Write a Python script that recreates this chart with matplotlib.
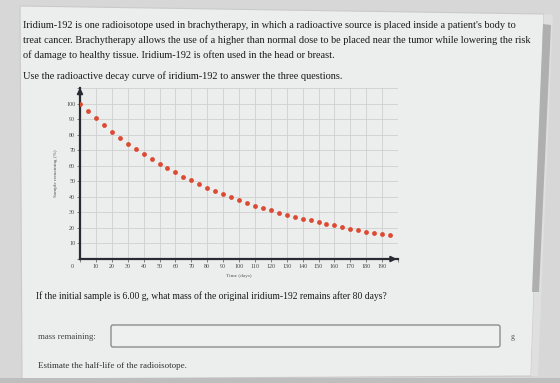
import matplotlib
matplotlib.use("Agg")
import matplotlib.pyplot as plt
from matplotlib.patches import Rectangle, Polygon, FancyBboxPatch

# decay curve (every 5 days)
days = [0, 5, 10, 15, 20, 25, 30, 35, 40, 45, 50, 55, 60, 65, 70, 75, 80, 85, 90, 95,
        100, 105, 110, 115, 120, 125, 130, 135, 140, 145, 150, 155, 160, 165, 170, 175,
        180, 185, 190, 195]
remaining = [100, 95.1, 90.7, 86.1, 82.0, 78.0, 74.2, 70.8, 67.4, 64.2, 61.3, 58.3, 55.8,
             53.0, 50.5, 48.0, 45.7, 43.6, 41.7, 39.6, 37.9, 36.0, 34.3, 32.7, 31.4, 29.9,
             28.6, 27.1, 25.9, 24.8, 23.8, 22.7, 21.6, 20.6, 19.5, 18.4, 17.6, 16.8, 16.1, 15.2]
xticks = list(range(10, 200, 10))
yticks = list(range(10, 110, 10))

intro = ["Iridium-192 is one radioisotope used in brachytherapy, in which a radioactive source is placed inside a patient's body to",
         "treat cancer. Brachytherapy allows the use of a higher than normal dose to be placed near the tumor while lowering the risk",
         "of damage to healthy tissue. Iridium-192 is often used in the head or breast."]
instruction = "Use the radioactive decay curve of iridium-192 to answer the three questions."
question = "If the initial sample is 6.00 g, what mass of the original iridium-192 remains after 80 days?"

serif = "Liberation Serif"
W, H = 560, 383

fig = plt.figure(figsize=(5.6, 3.83), dpi=100)
fig.patch.set_facecolor("#d6d7d6")

# page background, pixel coordinates
bg = fig.add_axes([0, 0, 1, 1])
bg.set_xlim(0, W)
bg.set_ylim(H, 0)
bg.axis("off")
bg.add_patch(Polygon([[20, 6], [544, 14], [531, 376], [22, 379]], closed=True,
                     facecolor="#eceeed", edgecolor="#c9cac9", lw=0.8))
# scrollbar
bg.add_patch(Polygon([[544, 14], [553, 15], [538, 376], [531, 376]], closed=True,
                     facecolor="#dedfde", edgecolor="none"))
bg.add_patch(Polygon([[543, 24], [551, 25], [539, 292], [532, 292]], closed=True,
                     facecolor="#aeafae", edgecolor="none"))
bg.add_patch(Rectangle((0, 378), W, 6, facecolor="#bdbebd", edgecolor="none"))

for i, line in enumerate(intro):
    bg.text(23, 25 + 15 * i, line, fontsize=7.4, family=serif, color="#1a1a1a", va="center")
bg.text(23, 76, instruction, fontsize=7.4, family=serif, color="#1a1a1a", va="center")
bg.text(36, 296, question, fontsize=6.9, family=serif, color="#1a1a1a", va="center")
bg.text(38, 337, "mass remaining:", fontsize=6.3, family=serif, color="#444444", va="center")
bg.add_patch(FancyBboxPatch((111, 325), 389, 22, boxstyle="round,pad=0,rounding_size=2",
                            facecolor="#eef0ef", edgecolor="#8c8c8c", lw=1.0))
bg.text(511, 337, "g", fontsize=5.5, family=serif, color="#555555", va="center")
bg.text(38, 366, "Estimate the half-life of the radioisotope.", fontsize=6.5, family=serif,
        color="#333333", va="center")

# the decay chart
ax = fig.add_axes([80 / W, 1 - 259 / H, 318 / W, 171 / H])
ax.set_facecolor("#eceeed")
ax.scatter(days, remaining, s=12, color="#dc4a33", zorder=3, linewidths=0)
ax.set_xlim(0, 200)
ax.set_ylim(0, 110)
ax.set_xticks(list(range(0, 210, 10)))
ax.set_xticklabels([""] + [str(t) for t in xticks] + [""])
ax.set_yticks(list(range(0, 120, 10)))
ax.set_yticklabels([""] + [str(v) for v in yticks] + [""])
ax.grid(True, color="#cfd1d0", lw=0.6)
ax.set_axisbelow(True)
for side in ["top", "right"]:
    ax.spines[side].set_visible(False)
for side in ["left", "bottom"]:
    ax.spines[side].set_color("#2a2a33")
    ax.spines[side].set_linewidth(1.6)
ax.tick_params(labelsize=4.3, length=2, width=0.5, color="#555555", pad=1.5, labelcolor="#444444")
for lab in ax.get_xticklabels() + ax.get_yticklabels():
    lab.set_family(serif)
ax.text(-4, -3, "0", fontsize=4.3, family=serif, color="#444444", ha="right", va="top")
ax.annotate("", xy=(0, 112), xytext=(0, 100), annotation_clip=False,
            arrowprops=dict(arrowstyle="-|>", color="#2a2a33", lw=1.4, mutation_scale=8))
ax.annotate("", xy=(201, 0), xytext=(190, 0), annotation_clip=False,
            arrowprops=dict(arrowstyle="-|>", color="#2a2a33", lw=1.4, mutation_scale=8))
ax.set_xlabel("Time (days)", fontsize=3.8, family=serif, color="#555555", labelpad=4)
ax.set_ylabel("Sample remaining (%)", fontsize=3.8, family=serif, color="#555555", labelpad=6)

fig.savefig("out.png", dpi=100, facecolor=fig.get_facecolor())
